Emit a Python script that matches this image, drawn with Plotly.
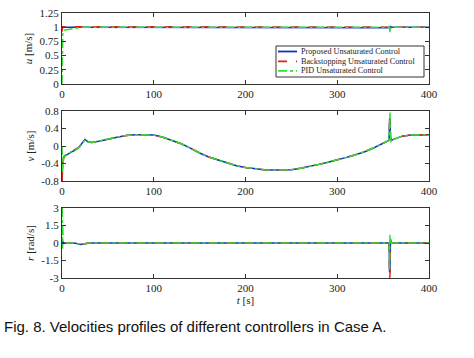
import plotly.graph_objects as go

# ---------------- data ----------------
series_names = ["Proposed Unsaturated Control", "Backstopping Unsaturated Control", "PID Unsaturated Control"]

t_u = [0, 0.3, 0.6, 1, 3, 8, 15, 22, 100, 200, 300, 356.5, 357, 357.5, 358, 358.5, 359, 400]
u_blue = [0.98, 1.0, 1.0, 1.0, 1.0, 1.0, 1.0, 1.0, 1.0, 1.0, 1.0, 1.0, 1.0, 0.99, 1.01, 1.0, 1.0, 1.0]
u_red = [0.92, 1.02, 1.02, 1.01, 1.01, 1.01, 1.0, 1.0, 1.0, 1.0, 1.0, 1.0, 1.0, 1.0, 1.0, 1.0, 1.0, 1.0]
u_green = [0.0, 0.4, 0.8, 0.93, 0.95, 0.96, 0.98, 1.0, 1.0, 1.0, 1.0, 1.0, 1.02, 0.9, 0.97, 1.0, 1.0, 1.0]

t_v = [0, 0.5, 1, 2, 4, 7, 10, 14, 18, 22, 25, 28, 32, 40, 50, 60, 70, 80, 90, 100,
       110, 120, 130, 140, 150, 160, 170, 180, 190, 200, 210, 220, 230, 240, 250, 260,
       270, 280, 290, 300, 310, 320, 330, 340, 350, 355, 356.5, 357, 357.5, 358, 358.5,
       359, 360, 365, 370, 380, 390, 400]
v_blue = [-0.8, -0.45, -0.3, -0.24, -0.22, -0.18, -0.14, -0.1, -0.04, 0.06, 0.15, 0.1, 0.08, 0.11, 0.16, 0.2, 0.24, 0.26, 0.26, 0.25,
          0.2, 0.13, 0.05, -0.05, -0.16, -0.25, -0.32, -0.39, -0.45, -0.49, -0.52, -0.54, -0.55, -0.55, -0.54, -0.51,
          -0.47, -0.42, -0.37, -0.32, -0.26, -0.2, -0.13, -0.04, 0.07, 0.12, 0.13, 0.6, 0.64, 0.2, 0.15,
          0.13, 0.14, 0.18, 0.22, 0.25, 0.26, 0.26]
v_red = [-0.8, -0.5, -0.35, -0.27, -0.2, -0.15, -0.12, -0.09, -0.04, 0.05, 0.13, 0.1, 0.08, 0.11, 0.16, 0.2, 0.24, 0.26, 0.26, 0.25,
         0.2, 0.13, 0.05, -0.05, -0.16, -0.25, -0.32, -0.39, -0.45, -0.49, -0.52, -0.54, -0.55, -0.55, -0.54, -0.51,
         -0.47, -0.42, -0.37, -0.32, -0.26, -0.2, -0.13, -0.04, 0.07, 0.12, 0.13, 0.5, 0.55, 0.2, 0.15,
         0.13, 0.14, 0.18, 0.22, 0.25, 0.26, 0.26]
v_green = [0.0, -0.6, -0.4, -0.26, -0.22, -0.17, -0.13, -0.1, -0.05, 0.04, 0.13, 0.1, 0.08, 0.11, 0.16, 0.2, 0.24, 0.26, 0.26, 0.25,
           0.2, 0.13, 0.05, -0.05, -0.16, -0.25, -0.32, -0.39, -0.45, -0.49, -0.52, -0.54, -0.55, -0.55, -0.54, -0.51,
           -0.47, -0.42, -0.37, -0.32, -0.26, -0.2, -0.13, -0.04, 0.07, 0.12, 0.13, 0.45, 0.78, 0.3, 0.08,
           0.16, 0.14, 0.18, 0.22, 0.25, 0.26, 0.26]

t_r = [0, 0.3, 0.6, 1, 2, 4, 10, 15, 20, 25, 30, 100, 200, 300, 355, 356.5, 357, 357.5, 358, 358.5, 359, 360, 365, 400]
r_blue = [0.5, -0.3, 0.2, 0.05, 0, 0, 0, -0.02, -0.12, -0.05, 0, 0, 0, 0, 0, 0, -2.5, -2.4, 0.3, 0.1, 0, 0, 0, 0]
r_red = [3.0, 1.2, 0.3, 0.1, 0, 0, 0, -0.02, -0.12, -0.05, 0, 0, 0, 0, 0, 0, -3.0, -2.8, 0.2, 0.1, 0, 0, 0, 0]
r_green = [3.0, 2.5, -0.5, 0.3, 0.1, 0, 0, -0.02, -0.12, -0.05, 0, 0, 0, 0, 0, 0, -2.3, 0.7, 0.4, -0.1, 0.05, 0, 0, 0]

x_ticks = [0, 100, 200, 300, 400]
u_ticks = [0, 0.25, 0.5, 0.75, 1, 1.25]
u_tick_text = ["0", "0.25", "0.5", "0.75", "1", "1.25"]
v_ticks = [-0.8, -0.4, 0, 0.4, 0.8]
v_tick_text = ["-0.8", "-0.4", "0", "0.4", "0.8"]
r_ticks = [-3, -1.5, 0, 1.5, 3]
r_tick_text = ["-3", "-1.5", "0", "1.5", "3"]

caption = "Fig. 8. Velocities profiles of different controllers in Case A."

# ---------------- styles ----------------
colors = ["#1030c0", "#e02020", "#30e030"]
dashes = ["solid", "dash", "dashdot"]
widths = [1.5, 1.5, 1.5]

# page geometry (the page body margin is removed below)
W, H = 474, 358
PLOT_L, PLOT_R, PLOT_T, PLOT_B = 62, 429, 13, 278
L, T, R, B = PLOT_L, PLOT_T, W - PLOT_R, H - PLOT_B
PW, PH = W - L - R, H - T - B


def px_x(px):
    return (px - PLOT_L) / PW


def px_y(py):
    return (PLOT_B - py) / PH


fig = go.Figure()

panels = [
    ("x", "y", t_u, [u_blue, u_red, u_green]),
    ("x2", "y2", t_v, [v_blue, v_red, v_green]),
    ("x3", "y3", t_r, [r_blue, r_red, r_green]),
]
for pi, (xa, ya, tt, ys) in enumerate(panels):
    for si, yv in enumerate(ys):
        fig.add_trace(go.Scatter(
            x=tt, y=yv, mode="lines", xaxis=xa, yaxis=ya,
            name=series_names[si], showlegend=False,
            line=dict(color=colors[si], dash=dashes[si], width=widths[si]),
        ))

serif = "Liberation Serif"
tick_font = dict(family=serif, size=11, color="#222")
title_font = dict(family=serif, size=11, color="#222")
common_x = dict(range=[0, 400], tickvals=x_ticks, ticks="inside", ticklen=4,
                mirror="ticks", showline=True, linecolor="#333", linewidth=1.3,
                showgrid=False, zeroline=False, tickfont=tick_font, tickcolor="#333",
                automargin=False)
common_y = dict(ticks="inside", ticklen=4, mirror="ticks", showline=True,
                linecolor="#333", linewidth=1.3, showgrid=False, zeroline=False,
                tickfont=tick_font, tickcolor="#333", title_standoff=4, automargin=False)

fig.update_layout(
    width=W, height=H,
    margin=dict(l=L, r=R, t=T, b=B),
    paper_bgcolor="white", plot_bgcolor="white",
    xaxis=dict(common_x, domain=[0, 1], anchor="y"),
    xaxis2=dict(common_x, domain=[0, 1], anchor="y2"),
    xaxis3=dict(common_x, domain=[0, 1], anchor="y3",
                title=dict(text="<i>t</i> [s]", font=title_font, standoff=2)),
    yaxis=dict(common_y, domain=[px_y(84), px_y(13)], range=[0, 1.25], tickvals=u_ticks, ticktext=u_tick_text,
               title=dict(text="<i>u</i> [m/s]", font=title_font)),
    yaxis2=dict(common_y, domain=[px_y(181), px_y(111)], range=[-0.8, 0.8], tickvals=v_ticks, ticktext=v_tick_text,
                title=dict(text="<i>v</i> [m/s]", font=title_font)),
    yaxis3=dict(common_y, domain=[0.0, px_y(208)], range=[-3, 3], tickvals=r_ticks, ticktext=r_tick_text,
                title=dict(text="<i>r</i> [rad/s]", font=title_font)),
    showlegend=False,
)

# custom compact legend (box, sample lines, labels)
lx0, lx1, ly0, ly1 = 276, 424, 46, 77
fig.add_shape(type="rect", xref="paper", yref="paper",
              x0=px_x(lx0), x1=px_x(lx1), y0=px_y(ly1), y1=px_y(ly0),
              line=dict(color="#333", width=1), fillcolor="white", layer="above")
row_y = [51.5, 61.3, 70.8]
for i, name in enumerate(series_names):
    fig.add_shape(type="line", xref="paper", yref="paper",
                  x0=px_x(278), x1=px_x(297), y0=px_y(row_y[i]), y1=px_y(row_y[i]),
                  line=dict(color=colors[i], dash=dashes[i], width=1.8), layer="above")
    fig.add_annotation(text=name, xref="paper", yref="paper", x=px_x(299), y=px_y(row_y[i]),
                       xanchor="left", yanchor="middle", showarrow=False,
                       font=dict(family=serif, size=8.2, color="#222"))

fig.add_annotation(text=caption, xref="paper", yref="paper", x=px_x(2), y=px_y(326),
                   xanchor="left", yanchor="middle", showarrow=False,
                   font=dict(family="Liberation Sans", size=15, color="#111"))

fig.write_html("out.html",
               config={"displayModeBar": False},
               post_script="document.body.style.margin='0';document.body.style.padding='0';")
